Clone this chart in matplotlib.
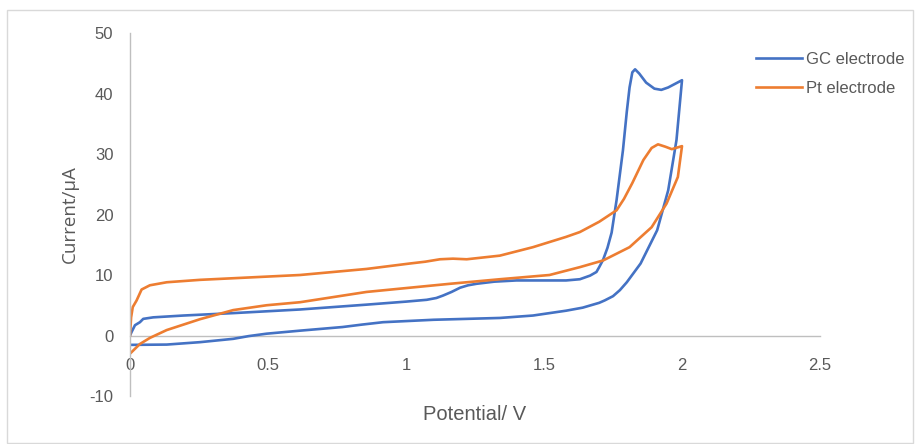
import matplotlib
matplotlib.use('Agg')
import matplotlib.pyplot as plt
from matplotlib.patches import Rectangle

# GC electrode: forward scan then reverse scan
gc_v = [0.0, 0.006, 0.018, 0.036, 0.048, 0.084, 0.193, 0.374, 0.616, 0.857,
        1.0, 1.075, 1.11, 1.134, 1.165, 1.196, 1.225, 1.256, 1.32, 1.40, 1.58,
        1.63, 1.667, 1.69, 1.70, 1.714, 1.73, 1.745, 1.763, 1.786, 1.80, 1.81,
        1.82, 1.83, 1.845, 1.87, 1.9, 1.925, 1.95, 1.975, 2.0,
        1.98, 1.95, 1.91, 1.85, 1.80, 1.775, 1.75, 1.72, 1.70,
        1.64, 1.58, 1.46, 1.34, 1.10, 0.917, 0.84, 0.77, 0.616, 0.495, 0.43,
        0.374, 0.254, 0.133, 0.0]
gc_i = [0.0, 0.6, 1.7, 2.2, 2.75, 3.0, 3.3, 3.7, 4.3, 5.1,
        5.6, 5.9, 6.2, 6.6, 7.2, 7.9, 8.3, 8.55, 8.9, 9.1, 9.1,
        9.3, 9.9, 10.5, 11.3, 12.5, 14.5, 17.0, 22.4, 30.6, 37.0, 41.0,
        43.5, 44.0, 43.3, 41.8, 40.8, 40.6, 41.0, 41.6, 42.2,
        32.3, 24.0, 17.4, 11.9, 8.8, 7.5, 6.5, 5.8, 5.4,
        4.6, 4.1, 3.3, 2.9, 2.6, 2.2, 1.8, 1.4, 0.8, 0.3, -0.1,
        -0.55, -1.1, -1.5, -1.55]

# Pt electrode
pt_v = [0.0, 0.004, 0.01, 0.024, 0.042, 0.072, 0.133, 0.254, 0.435, 0.616,
        0.857, 1.014, 1.07, 1.123, 1.17, 1.22, 1.34, 1.46, 1.58, 1.63, 1.70,
        1.763, 1.79, 1.82, 1.86, 1.89, 1.913, 1.94, 1.963, 1.985, 2.0,
        1.985, 1.944, 1.89, 1.81, 1.714, 1.63, 1.52, 1.34, 1.16,
        1.014, 0.857, 0.616, 0.495, 0.374, 0.254, 0.133, 0.072, 0.036, 0.0]
pt_i = [0.0, 3.0, 4.7, 5.8, 7.6, 8.3, 8.8, 9.2, 9.6, 10.0,
        11.0, 11.9, 12.2, 12.6, 12.7, 12.6, 13.2, 14.6, 16.3, 17.1, 18.8,
        20.7, 22.6, 25.2, 29.0, 31.0, 31.6, 31.2, 30.8, 31.1, 31.3,
        26.2, 21.8, 17.9, 14.6, 12.4, 11.3, 10.0, 9.3, 8.55,
        7.9, 7.2, 5.5, 5.0, 4.2, 2.7, 0.9, -0.4, -1.4, -3.0]

x_ticks = [0, 0.5, 1, 1.5, 2, 2.5]
y_ticks = [-10, 0, 10, 20, 30, 40, 50]

tick_font = ['Liberation Sans', 'DejaVu Sans']
grey = '#595959'

fig = plt.figure(figsize=(9.15, 4.44), dpi=100)
fig.patches.append(Rectangle((7 / 915, 0.002), 906 / 915, 1 - 10 / 444 - 0.002,
                             transform=fig.transFigure, fill=False,
                             edgecolor='#D9D9D9', linewidth=1))
ax = fig.add_axes([130 / 915, 1 - 396 / 444, 690 / 915, 363 / 444])

ax.plot(gc_v, gc_i, color='#4472C4', lw=1.9, label='GC electrode', solid_joinstyle='round')
ax.plot(pt_v, pt_i, color='#ED7D31', lw=1.9, label='Pt electrode', solid_joinstyle='round')

ax.set_xlim(0, 2.5)
ax.set_ylim(-10, 50)
ax.set_xticks(x_ticks)
ax.set_xticklabels([f'{t:g}' for t in x_ticks])
ax.set_yticks(y_ticks)
ax.set_yticklabels([str(t) for t in y_ticks])

for s in ['top', 'right']:
    ax.spines[s].set_visible(False)
ax.spines['bottom'].set_position(('data', 0))
ax.spines['bottom'].set_color('#BFBFBF')
ax.spines['left'].set_color('#BFBFBF')
ax.spines['bottom'].set_linewidth(1)
ax.spines['left'].set_linewidth(1)
ax.spines['bottom'].set_zorder(0)

ax.tick_params(axis='both', length=0, labelcolor=grey, labelsize=12)
ax.tick_params(axis='x', pad=16)
ax.tick_params(axis='y', pad=12)
for lab in ax.get_xticklabels() + ax.get_yticklabels():
    lab.set_family(tick_font)

ax.set_xlabel('Potential/ V', color=grey, fontsize=14.5, family=tick_font)
ax.xaxis.set_label_coords(0.5, -0.025)
ax.set_ylabel('Current/\u03bcA', color=grey, fontsize=13.5, family=['Open Sans', 'DejaVu Sans'])
ax.yaxis.set_label_coords(-0.074, 0.5)

ax.legend(loc='upper left', bbox_to_anchor=(0.885, 0.99), frameon=False,
          prop={'family': tick_font, 'size': 12}, labelcolor=grey,
          handlelength=2.8, handletextpad=0.2, labelspacing=0.85)

fig.savefig('out.png', dpi=100)
